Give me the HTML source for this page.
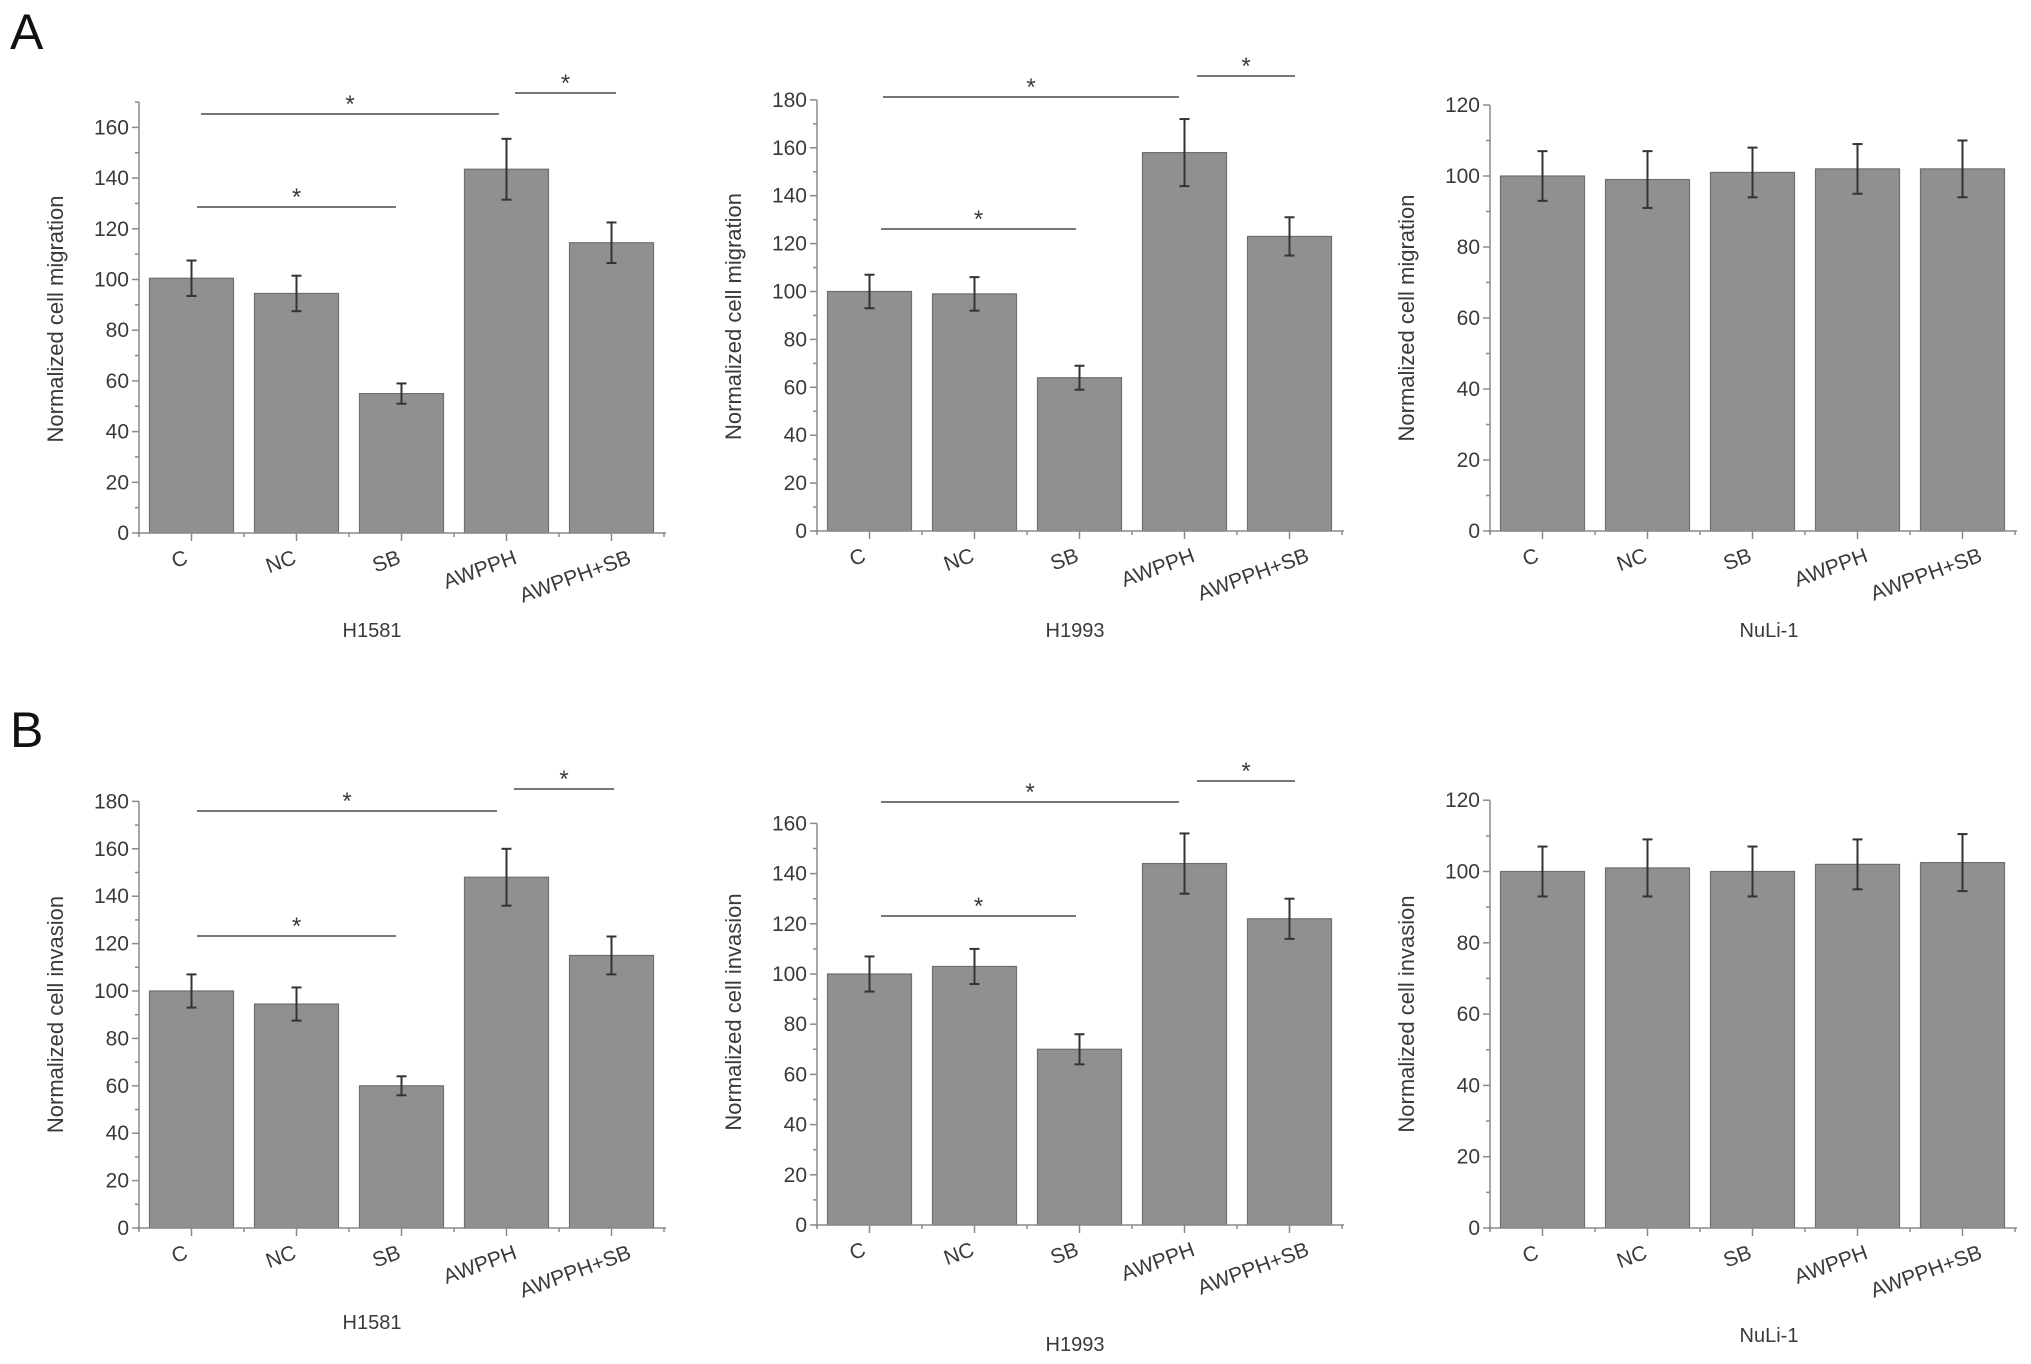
<!DOCTYPE html>
<html><head><meta charset="utf-8"><title>Cell migration and invasion</title>
<style>
html,body{margin:0;padding:0;background:#fff;}
svg{display:block;}
text{font-family:"Liberation Sans",Arial,sans-serif;fill:#3a3a3a;}
</style></head>
<body>
<svg id="fig" width="2031" height="1364" viewBox="0 0 2031 1364" xmlns="http://www.w3.org/2000/svg">
<text x="10" y="49" font-size="50" style="fill:#111">A</text>
<text x="10" y="747" font-size="50" style="fill:#111">B</text>
</svg>
<script>
const categories = ['C','NC','SB','AWPPH','AWPPH+SB'];
const a1Values = [100.5, 94.5, 55, 143.5, 114.5];
const a1Errors = [7, 7, 4, 12, 8];
const a1Ticks = [0,20,40,60,80,100,120,140,160];
const a2Values = [100, 99, 64, 158, 123];
const a2Errors = [7, 7, 5, 14, 8];
const a2Ticks = [0,20,40,60,80,100,120,140,160,180];
const a3Values = [100, 99, 101, 102, 102];
const a3Errors = [7, 8, 7, 7, 8];
const a3Ticks = [0,20,40,60,80,100,120];
const b1Values = [100, 94.5, 60, 148, 115];
const b1Errors = [7, 7, 4, 12, 8];
const b1Ticks = [0,20,40,60,80,100,120,140,160,180];
const b2Values = [100, 103, 70, 144, 122];
const b2Errors = [7, 7, 6, 12, 8];
const b2Ticks = [0,20,40,60,80,100,120,140,160];
const b3Values = [100, 101, 100, 102, 102.5];
const b3Errors = [7, 8, 7, 7, 8];
const b3Ticks = [0,20,40,60,80,100,120];

const NS='http://www.w3.org/2000/svg';
const svg=document.getElementById('fig');
function mk(tag,attrs,parent){const e=document.createElementNS(NS,tag);for(const k in attrs)e.setAttribute(k,attrs[k]);(parent||svg).appendChild(e);return e;}

const panels=[
 {id:'a1',vals:a1Values,errs:a1Errors,ticks:a1Ticks,x0:139,y0:533,top:105,ymax:170,ppu:50.7/20,title:'Normalized cell migration',cell:'H1581',cellX:372,cellY:637,
  sig:[[201,499,114],[197,396,207],[515,616,93]]},
 {id:'a2',vals:a2Values,errs:a2Errors,ticks:a2Ticks,x0:817,y0:531,top:102,ymax:180,ppu:47.9/20,title:'Normalized cell migration',cell:'H1993',cellX:1075,cellY:637,
  sig:[[883,1179,97],[881,1076,229],[1197,1295,76]]},
 {id:'a3',vals:a3Values,errs:a3Errors,ticks:a3Ticks,x0:1490,y0:531,top:105,ymax:120,ppu:71/20,title:'Normalized cell migration',cell:'NuLi-1',cellX:1769,cellY:637,sig:[]},
 {id:'b1',vals:b1Values,errs:b1Errors,ticks:b1Ticks,x0:139,y0:1228,top:801,ymax:180,ppu:47.4/20,title:'Normalized cell invasion',cell:'H1581',cellX:372,cellY:1329,
  sig:[[197,497,811],[197,396,936],[514,614,789]]},
 {id:'b2',vals:b2Values,errs:b2Errors,ticks:b2Ticks,x0:817,y0:1225,top:799,ymax:160,ppu:50.2/20,title:'Normalized cell invasion',cell:'H1993',cellX:1075,cellY:1351,
  sig:[[881,1179,802],[881,1076,916],[1197,1295,781]]},
 {id:'b3',vals:b3Values,errs:b3Errors,ticks:b3Ticks,x0:1490,y0:1228,top:800,ymax:120,ppu:71.3/20,title:'Normalized cell invasion',cell:'NuLi-1',cellX:1769,cellY:1342,sig:[]}
];
const CW=105;

panels.forEach(p=>{
 const g=mk('g',{});
 
 
 const yS=v=>p.y0-v*p.ppu;
 const xC=i=>p.x0+CW*(i+0.5);
 const xEnd=p.x0+CW*categories.length;
 p.vals.forEach((v,i)=>{
  const r=mk('rect',{x:xC(i)-42,y:yS(v),width:84,height:p.y0-yS(v),fill:'#909090',stroke:'#6e6e6e','stroke-width':1.2},g);
  
  
 });
 p.vals.forEach((v,i)=>{
  const e=p.errs[i], x=xC(i);
  const eg=mk('g',{stroke:'#333','stroke-width':2},g);
  
  
  mk('line',{x1:x,x2:x,y1:yS(v+e),y2:yS(v-e)},eg);
  mk('line',{x1:x-5,x2:x+5,y1:yS(v+e),y2:yS(v+e)},eg);
  mk('line',{x1:x-5,x2:x+5,y1:yS(v-e),y2:yS(v-e)},eg);
 });
 const ax=mk('g',{stroke:'#8a8a8a','stroke-width':1.5,fill:'none'},g);
 
 
 mk('line',{x1:p.x0,x2:p.x0,y1:p.y0+2,y2:yS(p.ymax)},ax);
 mk('line',{x1:p.x0-2,x2:xEnd+2,y1:p.y0,y2:p.y0},ax);
 const step=p.ticks[1]-p.ticks[0];
 for(let v=0;v<=p.ymax+0.01;v+=step/2){
  const major=p.ticks.indexOf(v)>=0;
  mk('line',{x1:p.x0,x2:p.x0-(major?7:4),y1:yS(v),y2:yS(v)},ax);
 }
 for(let i=0;i<=categories.length;i++){
  mk('line',{x1:p.x0+CW*i,x2:p.x0+CW*i,y1:p.y0,y2:p.y0+4},ax);
  if(i<categories.length) mk('line',{x1:xC(i),x2:xC(i),y1:p.y0,y2:p.y0+8},ax);
 }
 p.ticks.forEach(v=>{
  const t=mk('text',{x:p.x0-10,y:yS(v)+7,'font-size':21,'text-anchor':'end'},g);
  t.textContent=v;
  
  
 });
 categories.forEach((c,i)=>{
  const t=mk('text',{'font-size':21,'text-anchor':'end'},g);
  t.textContent=c;
  
  
  const w=t.getComputedTextLength();
  const tx=xC(i)-6+0.23*w, ty=p.y0+30;
  t.setAttribute('x',tx);t.setAttribute('y',ty);
  t.setAttribute('transform',`rotate(-20 ${tx} ${ty})`);
 });
 const cy=(p.y0+p.top)/2, tx=p.x0-76;
 const yt=mk('text',{x:tx,y:cy,'font-size':22,'text-anchor':'middle',transform:`rotate(-90 ${tx} ${cy})`},g);
 yt.textContent=p.title;
 
 
 const cl=mk('text',{x:p.cellX,y:p.cellY,'font-size':20,'text-anchor':'middle'},g);
 cl.textContent=p.cell;
 
 
 p.sig.forEach(s=>{
  const sg=mk('g',{},g);
  
  
  mk('line',{x1:s[0],x2:s[1],y1:s[2],y2:s[2],stroke:'#777','stroke-width':2},sg);
  const st=mk('text',{x:(s[0]+s[1])/2,y:s[2]-2,'font-size':24,'text-anchor':'middle'},sg);
  st.textContent='*';
 });
});
</script>
</body></html>
